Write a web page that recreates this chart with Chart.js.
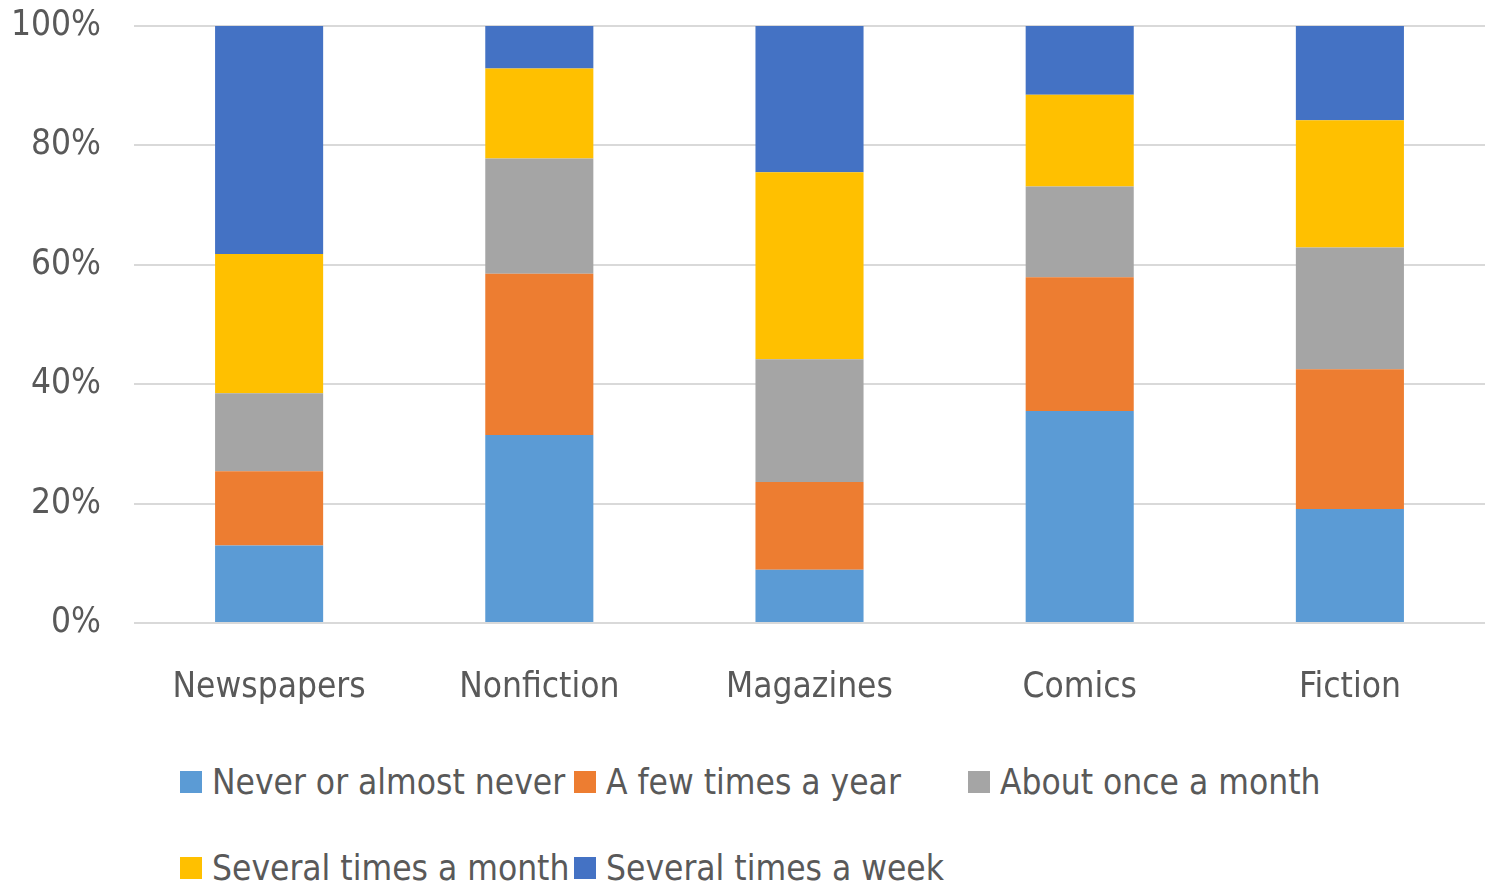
<!DOCTYPE html>
<html>
<head>
<meta charset="utf-8">
<script src="https://cdn.jsdelivr.net/npm/chart.js"></script>
<style>
  body { margin: 0; background: #fff; }
  #wrap { position: relative; width: 1487px; height: 889px; overflow: hidden; }
  #chartBox { position: absolute; left: -34px; top: -28px; width: 1521px; height: 783px; }
  #legend {
    position: absolute; left: 180px; top: 758px;
    display: grid; grid-template-columns: 394px 394px 394px; row-gap: 38px;
    font-family: "DejaVu Sans Condensed", "Liberation Sans Narrow", sans-serif;
    font-size: 35px; color: #595959;
  }
  .item { display: flex; align-items: center; height: 48px; white-space: nowrap; }
  .sw { width: 22px; height: 22px; margin-right: 10px; flex: none; }
</style>
</head>
<body>
<div id="wrap">
  <div id="chartBox"><canvas id="myChart"></canvas></div>
  <div id="legend"></div>
</div>
<script>
// categories and series (percent of respondents)
const categories = ['Newspapers', 'Nonfiction', 'Magazines', 'Comics', 'Fiction'];
const seriesNames = ['Never or almost never', 'A few times a year', 'About once a month', 'Several times a month', 'Several times a week'];
const never   = [13.0, 31.5,  8.9, 35.5, 19.1];
const fewYear = [12.4, 27.0, 14.7, 22.4, 23.4];
const onceMon = [13.1, 19.3, 20.6, 15.2, 20.4];
const sevMon  = [23.3, 15.1, 31.3, 15.4, 21.3];
const sevWeek = [38.2,  7.1, 24.5, 11.5, 15.8];
const yTicks = [0, 20, 40, 60, 80, 100];

const colors = ['#5b9bd5', '#ed7d31', '#a5a5a5', '#ffc000', '#4472c4'];
const seriesData = [never, fewYear, onceMon, sevMon, sevWeek];

const FONT = '"DejaVu Sans Condensed", "Liberation Sans Narrow", sans-serif';

function go() {
  const ctx = document.getElementById('myChart');
  new Chart(ctx, {
    type: 'bar',
    data: {
      labels: categories,
      datasets: seriesNames.map((name, i) => ({
        label: name,
        data: seriesData[i],
        backgroundColor: colors[i],
        borderWidth: 0,
        barPercentage: 0.4,
        categoryPercentage: 1
      }))
    },
    options: {
      responsive: true,
      maintainAspectRatio: false,
      animation: false,
      layout: { padding: { top: 6, left: 12, right: 2, bottom: 10 } },
      plugins: { legend: { display: false }, tooltip: { enabled: false } },
      scales: {
        x: {
          stacked: true,
          grid: { display: false },
          border: { display: false },
          ticks: { color: '#595959', font: { family: FONT, size: 35 }, padding: 36 }
        },
        y: {
          stacked: true,
          min: 0, max: 100,
          afterBuildTicks: axis => { axis.ticks = yTicks.map(v => ({ value: v })); },
          grid: { color: '#d9d9d9', lineWidth: 2, drawTicks: false },
          border: { display: false },
          ticks: {
            color: '#595959', font: { family: FONT, size: 35 }, padding: 33,
            callback: v => v + '%'
          }
        }
      }
    }
  });

  // legend built from the same names/colours
  const lg = document.getElementById('legend');
  seriesNames.forEach((name, i) => {
    const d = document.createElement('div');
    d.className = 'item';
    d.innerHTML = '<span class="sw" style="background:' + colors[i] + '"></span><span>' + name + '</span>';
    lg.appendChild(d);
  });
}
go();
</script>
</body>
</html>
